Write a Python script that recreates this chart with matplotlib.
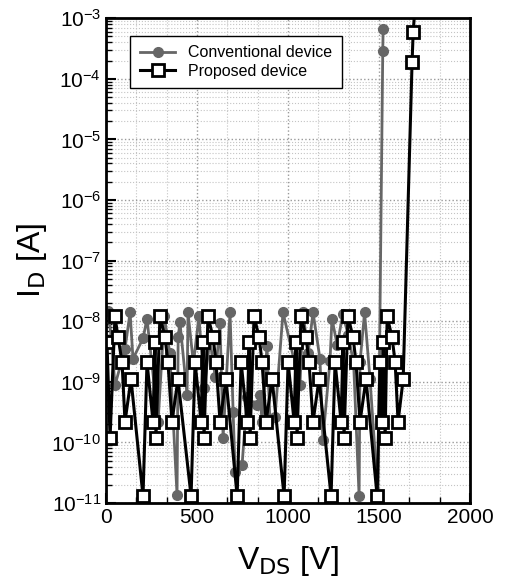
import matplotlib
matplotlib.use('Agg')
import matplotlib.pyplot as plt
from matplotlib.ticker import MultipleLocator, LogLocator, NullFormatter

plt.rcParams['font.family'] = ['Liberation Sans', 'DejaVu Sans']
plt.rcParams['axes.unicode_minus'] = False

# Conventional device (gray circles)
conv_v = [11, 30, 49, 104, 132, 148, 203, 225, 286, 320, 350, 390, 396, 406, 445, 450,
          480, 510, 540, 570, 600, 626, 643, 681, 698, 709, 747, 775, 830, 846, 857, 884,
          900, 928, 972, 1065, 1082, 1110, 1137, 1175, 1191, 1230, 1241, 1270, 1300, 1330,
          1360, 1390, 1395, 1420, 1450, 1494, 1520, 1522]
conv_i = [1.5e-8, 5e-9, 8.7e-10, 3.5e-9, 1.4e-8, 2.4e-9, 5.2e-9, 1.1e-8, 2.2e-10, 1.2e-8, 3e-9, 1.35e-11, 5.4e-9, 9.6e-9, 6e-10, 1.4e-8,
          2e-9, 1.2e-8, 8e-10, 5e-9, 1.2e-9, 9.3e-9, 1.2e-10, 1.4e-8, 3.2e-10, 3.2e-11, 4.2e-11, 5.6e-10, 4.1e-10, 6e-10, 2.2e-10, 3.9e-9,
          2.4e-10, 2.6e-10, 1.4e-8, 8.7e-10, 1.4e-8, 3e-9, 1.4e-8, 2.4e-9, 1.1e-10, 2.2e-9, 1.1e-8, 4e-9, 1.3e-8, 6e-9,
          2e-9, 1.3e-11, 2.1e-9, 1.4e-8, 1.1e-9, 1.3e-11, 2.9e-4, 6.6e-4]

# Proposed device (black open squares)
prop_v = [5, 22, 49, 66, 88, 104, 137,
          203, 225, 258, 269, 274, 296, 324, 340, 362, 395,
          467, 489, 522, 533, 538, 560, 588, 604, 626, 659,
          720, 742, 775, 786, 791, 813, 841, 857, 879, 912,
          978, 1000, 1033, 1044, 1049, 1071, 1099, 1115, 1137, 1170,
          1236, 1258, 1291, 1302, 1307, 1329, 1357, 1373, 1395, 1428,
          1489, 1505, 1515, 1522, 1533, 1544, 1571, 1588, 1604, 1632,
          1681, 1687, 1700]
prop_i = [4.6e-9, 1.2e-10, 1.2e-8, 5.4e-9, 2.1e-9, 2.2e-10, 1.1e-9,
          1.3e-11, 2.1e-9, 2.2e-10, 4.6e-9, 1.2e-10, 1.2e-8, 5.4e-9, 2.1e-9, 2.2e-10, 1.1e-9,
          1.3e-11, 2.1e-9, 2.2e-10, 4.6e-9, 1.2e-10, 1.2e-8, 5.4e-9, 2.1e-9, 2.2e-10, 1.1e-9,
          1.3e-11, 2.1e-9, 2.2e-10, 4.6e-9, 1.2e-10, 1.2e-8, 5.4e-9, 2.1e-9, 2.2e-10, 1.1e-9,
          1.3e-11, 2.1e-9, 2.2e-10, 4.6e-9, 1.2e-10, 1.2e-8, 5.4e-9, 2.1e-9, 2.2e-10, 1.1e-9,
          1.3e-11, 2.1e-9, 2.2e-10, 4.6e-9, 1.2e-10, 1.2e-8, 5.4e-9, 2.1e-9, 2.2e-10, 1.1e-9,
          1.3e-11, 2.1e-9, 2.2e-10, 4.6e-9, 1.2e-10, 1.2e-8, 5.4e-9, 2.1e-9, 2.2e-10, 1.1e-9,
          1.9e-4, 5.9e-4, 2e-3]

fig = plt.figure(figsize=(5.05, 5.86), dpi=100)
ax = fig.add_axes([0.21, 0.1416, 0.721, 0.8274])

ax.plot(conv_v, conv_i, color='#666666', lw=2, marker='o', ms=7,
        label='Conventional device')
ax.plot(prop_v, prop_i, color='black', lw=2.2, marker='s', ms=8, mfc='white',
        mec='black', mew=2, label='Proposed device')

ax.set_yscale('log')
ax.set_xlim(0, 2000)
ax.set_ylim(1e-11, 1e-3)
ax.xaxis.set_major_locator(MultipleLocator(500))
ax.xaxis.set_minor_locator(MultipleLocator(500 / 3))
ax.yaxis.set_major_locator(LogLocator(base=10, numticks=20))
ax.yaxis.set_minor_locator(LogLocator(base=10, subs=range(2, 10), numticks=20))
ax.yaxis.set_minor_formatter(NullFormatter())

ax.grid(True, which='major', color='#999999', ls=':', lw=1)
ax.grid(True, which='minor', color='#c4c4c4', ls=':', lw=0.8)
ax.set_axisbelow(True)

ax.tick_params(which='both', direction='in', top=False, right=False, labelsize=15)
ax.tick_params(which='major', length=7, width=1.5)
ax.tick_params(which='minor', length=4, width=1)
for s in ax.spines.values():
    s.set_linewidth(2)

ax.set_xlabel(r'V$_{\mathrm{DS}}$ [V]', fontsize=23, labelpad=12)
ax.set_ylabel(r'I$_{\mathrm{D}}$ [A]', fontsize=23, labelpad=2)

leg = ax.legend(loc='upper left', bbox_to_anchor=(0.045, 0.98), fontsize=11.5,
                fancybox=False, framealpha=1, edgecolor='black', handlelength=2.2,
                borderpad=0.6, labelspacing=0.2, handletextpad=0.8)
leg.get_frame().set_linewidth(1)

plt.savefig('out.png', dpi=100)
